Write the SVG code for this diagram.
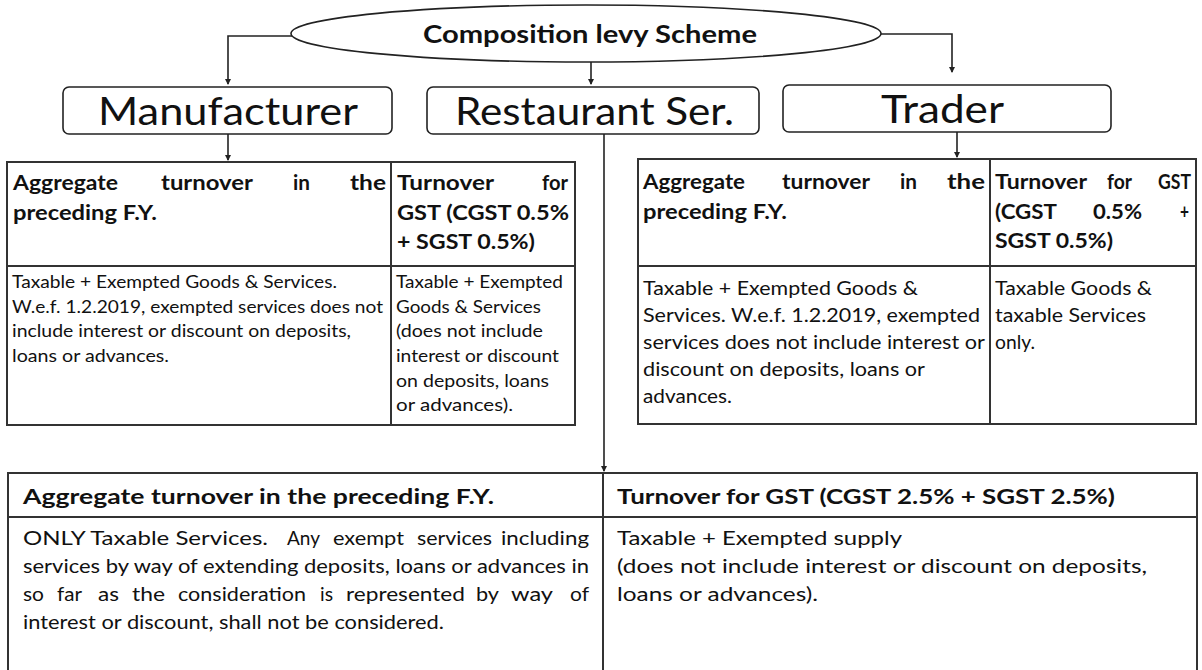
<svg xmlns="http://www.w3.org/2000/svg" width="1202" height="670" viewBox="0 0 1202 670">
<style>
.ln{stroke:#222;stroke-width:1.6;fill:none}
.bx{fill:#fff;stroke:#222;stroke-width:1.6}
.tb{fill:none;stroke:#333;stroke-width:2}
text{font-family:Lato,"Open Sans",sans-serif;fill:#111}
.b{font-weight:bold}
.h{font-size:21.5px;font-weight:bold}
.s{font-size:16.5px}
.m{font-size:18.5px}
.big{font-size:38px}
</style>
<defs>
<marker id="ah" markerWidth="6" markerHeight="6" refX="5" refY="3" orient="auto" markerUnits="userSpaceOnUse"><path d="M0,0 L6,3 L0,6 z" fill="#222"/></marker>
</defs>
<rect width="1202" height="670" fill="#fff"/>
<g id="connectors">
<path class="ln" d="M292,36 H228 V84" marker-end="url(#ah)"/>
<path class="ln" d="M591,62 V84" marker-end="url(#ah)"/>
<path class="ln" d="M881,34 H952 V72" marker-end="url(#ah)"/>
<path class="ln" d="M228,134 V160" marker-end="url(#ah)"/>
<path class="ln" d="M957,132 V157" marker-end="url(#ah)"/>
<path class="ln" d="M604,134 V471" marker-end="url(#ah)"/>
</g>
<g id="root">
<ellipse class="bx" cx="586" cy="33.5" rx="295" ry="28.5"/>
<text class="b" x="423" y="43" font-size="24" textLength="334" lengthAdjust="spacingAndGlyphs">Composition levy Scheme</text>
</g>
<g id="manufacturer">
<rect class="bx" x="63" y="87" width="329" height="47" rx="6"/>
<text class="big" x="98" y="125" textLength="260" lengthAdjust="spacingAndGlyphs">Manufacturer</text>
</g>
<g id="restaurant">
<rect class="bx" x="427" y="87" width="332" height="47" rx="6"/>
<text class="big" x="455" y="125" textLength="279" lengthAdjust="spacingAndGlyphs">Restaurant Ser.</text>
</g>
<g id="trader">
<rect class="bx" x="783" y="85" width="328" height="47" rx="6"/>
<text class="big" x="881" y="123" textLength="123" lengthAdjust="spacingAndGlyphs">Trader</text>
</g>
<g id="manufacturer-table">
<rect class="tb" x="7" y="162" width="568" height="263"/>
<line class="tb" x1="391" y1="162" x2="391" y2="425"/>
<line class="tb" x1="7" y1="266" x2="575" y2="266"/>
<text class="h" x="13" y="190" textLength="105" lengthAdjust="spacingAndGlyphs">Aggregate</text>
<text class="h" x="161" y="190" textLength="92" lengthAdjust="spacingAndGlyphs">turnover</text>
<text class="h" x="293" y="190" textLength="17" lengthAdjust="spacingAndGlyphs">in</text>
<text class="h" x="350" y="190" textLength="36" lengthAdjust="spacingAndGlyphs">the</text>
<text class="h" x="13" y="219.5" textLength="144" lengthAdjust="spacingAndGlyphs">preceding F.Y.</text>
<text class="h" x="397" y="190" textLength="97" lengthAdjust="spacingAndGlyphs">Turnover</text>
<text class="h" x="542" y="190" textLength="26" lengthAdjust="spacingAndGlyphs">for</text>
<text class="h" x="397" y="219.5" textLength="172" lengthAdjust="spacingAndGlyphs">GST (CGST 0.5%</text>
<text class="h" x="397" y="248.5" textLength="138" lengthAdjust="spacingAndGlyphs">+ SGST 0.5%)</text>
<text class="s" x="12" y="288" textLength="325" lengthAdjust="spacingAndGlyphs">Taxable + Exempted Goods &amp; Services.</text>
<text class="s" x="12" y="312.7" textLength="371" lengthAdjust="spacingAndGlyphs">W.e.f. 1.2.2019, exempted services does not</text>
<text class="s" x="12" y="337.3" textLength="339" lengthAdjust="spacingAndGlyphs">include interest or discount on deposits,</text>
<text class="s" x="12" y="362" textLength="157" lengthAdjust="spacingAndGlyphs">loans or advances.</text>
<text class="s" x="396" y="288" textLength="167" lengthAdjust="spacingAndGlyphs">Taxable + Exempted</text>
<text class="s" x="396" y="312.7" textLength="145" lengthAdjust="spacingAndGlyphs">Goods &amp; Services</text>
<text class="s" x="396" y="337.3" textLength="147" lengthAdjust="spacingAndGlyphs">(does not include</text>
<text class="s" x="396" y="362" textLength="163" lengthAdjust="spacingAndGlyphs">interest or discount</text>
<text class="s" x="396" y="386.7" textLength="153" lengthAdjust="spacingAndGlyphs">on deposits, loans</text>
<text class="s" x="396" y="411.3" textLength="117" lengthAdjust="spacingAndGlyphs">or advances).</text>
</g>
<g id="trader-table">
<rect class="tb" x="638" y="159" width="558" height="265"/>
<line class="tb" x1="990" y1="159" x2="990" y2="424"/>
<line class="tb" x1="638" y1="266" x2="1196" y2="266"/>
<text class="h" x="643" y="189" textLength="102" lengthAdjust="spacingAndGlyphs">Aggregate</text>
<text class="h" x="782" y="189" textLength="88" lengthAdjust="spacingAndGlyphs">turnover</text>
<text class="h" x="900" y="189" textLength="17" lengthAdjust="spacingAndGlyphs">in</text>
<text class="h" x="947" y="189" textLength="38" lengthAdjust="spacingAndGlyphs">the</text>
<text class="h" x="643" y="218.5" textLength="144" lengthAdjust="spacingAndGlyphs">preceding F.Y.</text>
<text class="h" x="995" y="189" textLength="92" lengthAdjust="spacingAndGlyphs">Turnover</text>
<text class="h" x="1107" y="189" textLength="25" lengthAdjust="spacingAndGlyphs">for</text>
<text class="h" x="1158" y="189" textLength="33" lengthAdjust="spacingAndGlyphs">GST</text>
<text class="h" x="995" y="218.5" textLength="62" lengthAdjust="spacingAndGlyphs">(CGST</text>
<text class="h" x="1093" y="218.5" textLength="49" lengthAdjust="spacingAndGlyphs">0.5%</text>
<text class="h" x="1180" y="218.5" textLength="9" lengthAdjust="spacingAndGlyphs">+</text>
<text class="h" x="995" y="247.5" textLength="118" lengthAdjust="spacingAndGlyphs">SGST 0.5%)</text>
<text class="m" x="643" y="295" textLength="275" lengthAdjust="spacingAndGlyphs">Taxable + Exempted Goods &amp;</text>
<text class="m" x="643" y="322" textLength="337" lengthAdjust="spacingAndGlyphs">Services. W.e.f. 1.2.2019, exempted</text>
<text class="m" x="643" y="349" textLength="342" lengthAdjust="spacingAndGlyphs">services does not include interest or</text>
<text class="m" x="643" y="376" textLength="282" lengthAdjust="spacingAndGlyphs">discount on deposits, loans or</text>
<text class="m" x="643" y="403" textLength="89" lengthAdjust="spacingAndGlyphs">advances.</text>
<text class="m" x="995" y="295" textLength="157" lengthAdjust="spacingAndGlyphs">Taxable Goods &amp;</text>
<text class="m" x="995" y="322" textLength="151" lengthAdjust="spacingAndGlyphs">taxable Services</text>
<text class="m" x="995" y="349" textLength="40" lengthAdjust="spacingAndGlyphs">only.</text>
</g>
<g id="restaurant-table">
<rect class="tb" x="8" y="473" width="1189" height="220"/>
<line class="tb" x1="603" y1="473" x2="603" y2="680"/>
<line class="tb" x1="8" y1="517" x2="1197" y2="517"/>
<text class="b" font-size="21.5" x="23" y="504" textLength="471" lengthAdjust="spacingAndGlyphs">Aggregate turnover in the preceding F.Y.</text>
<text class="b" font-size="21.5" x="617" y="504" textLength="498" lengthAdjust="spacingAndGlyphs">Turnover for GST (CGST 2.5% + SGST 2.5%)</text>
<text font-size="20" x="23" y="545" textLength="245" lengthAdjust="spacingAndGlyphs">ONLY Taxable Services.</text>
<text class="m" x="287" y="545" textLength="33" lengthAdjust="spacingAndGlyphs">Any</text>
<text class="m" x="333" y="545" textLength="71" lengthAdjust="spacingAndGlyphs">exempt</text>
<text class="m" x="417" y="545" textLength="75" lengthAdjust="spacingAndGlyphs">services</text>
<text class="m" x="501" y="545" textLength="88" lengthAdjust="spacingAndGlyphs">including</text>
<text class="m" x="23" y="573" textLength="566" lengthAdjust="spacingAndGlyphs">services by way of extending deposits, loans or advances in</text>
<text class="m" x="23" y="601" textLength="21" lengthAdjust="spacingAndGlyphs">so</text>
<text class="m" x="57" y="601" textLength="25" lengthAdjust="spacingAndGlyphs">far</text>
<text class="m" x="98" y="601" textLength="21" lengthAdjust="spacingAndGlyphs">as</text>
<text class="m" x="132" y="601" textLength="33" lengthAdjust="spacingAndGlyphs">the</text>
<text class="m" x="178" y="601" textLength="128" lengthAdjust="spacingAndGlyphs">consideration</text>
<text class="m" x="320" y="601" textLength="13" lengthAdjust="spacingAndGlyphs">is</text>
<text class="m" x="346" y="601" textLength="119" lengthAdjust="spacingAndGlyphs">represented</text>
<text class="m" x="476" y="601" textLength="23" lengthAdjust="spacingAndGlyphs">by</text>
<text class="m" x="511" y="601" textLength="42" lengthAdjust="spacingAndGlyphs">way</text>
<text class="m" x="570" y="601" textLength="19" lengthAdjust="spacingAndGlyphs">of</text>
<text class="m" x="23" y="629" textLength="421" lengthAdjust="spacingAndGlyphs">interest or discount, shall not be considered.</text>
<text class="m" x="617" y="545" textLength="285" lengthAdjust="spacingAndGlyphs">Taxable + Exempted supply</text>
<text class="m" x="617" y="573" textLength="530" lengthAdjust="spacingAndGlyphs">(does not include interest or discount on deposits,</text>
<text class="m" x="617" y="601" textLength="201" lengthAdjust="spacingAndGlyphs">loans or advances).</text>
</g>
</svg>
